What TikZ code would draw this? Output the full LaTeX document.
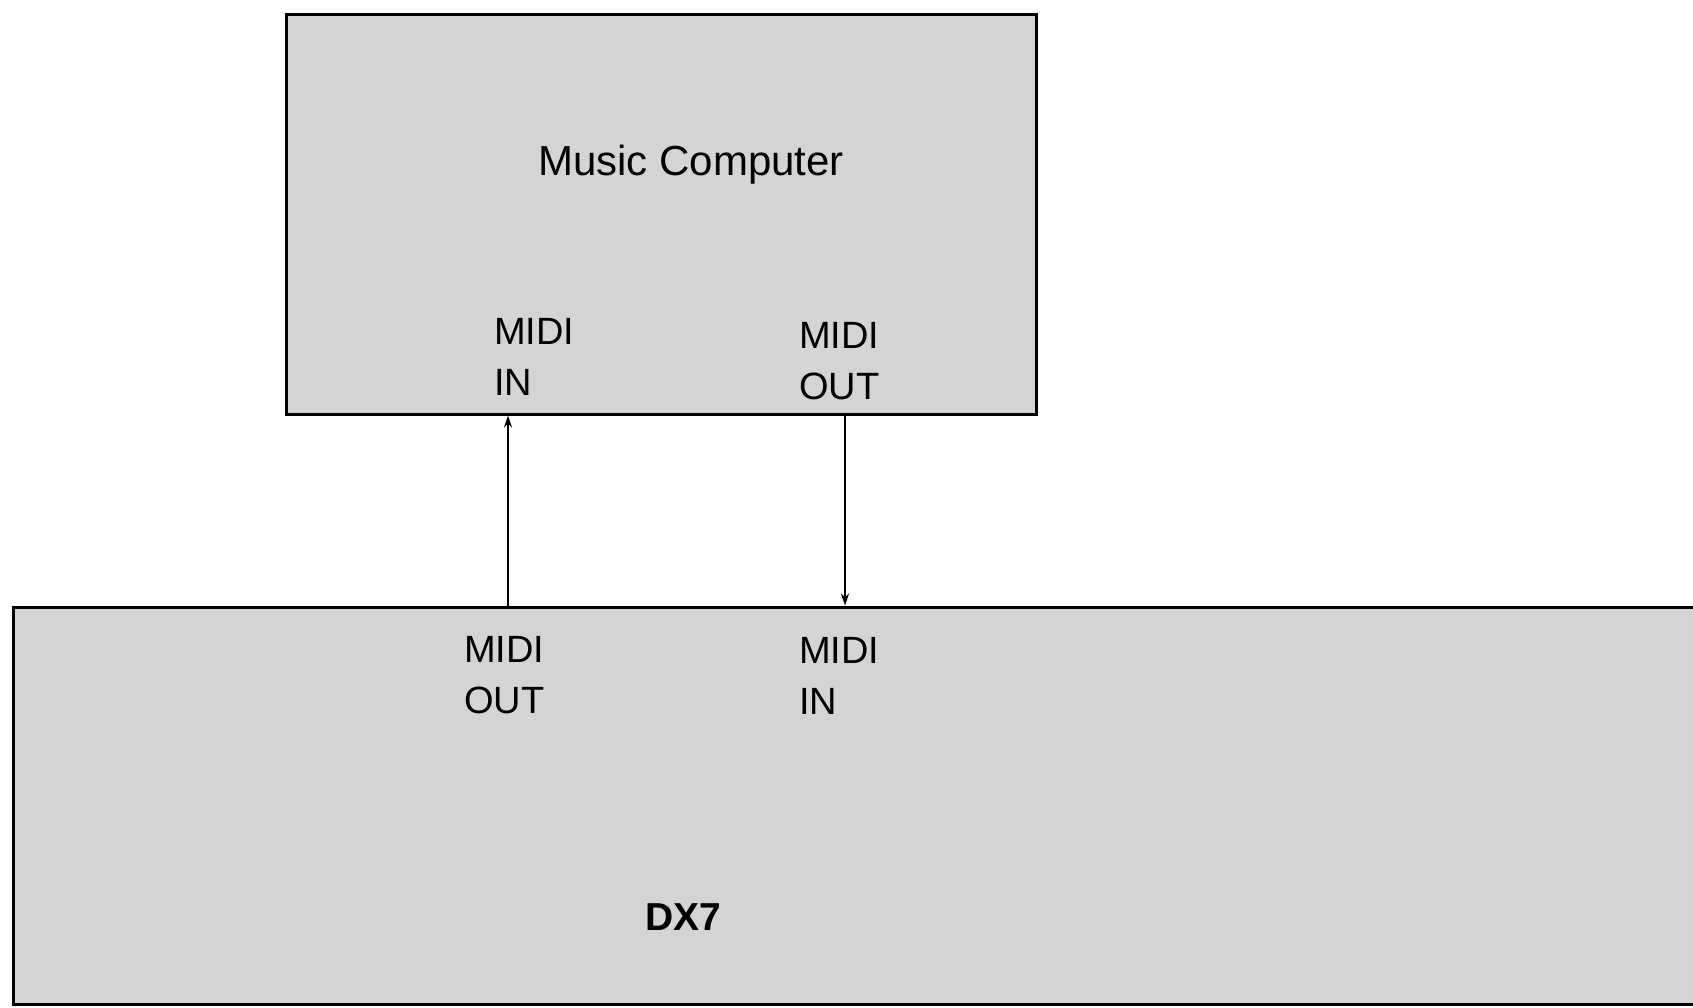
\documentclass[tikz,border=0pt]{standalone}
\usepackage{fontspec}
\setmainfont{Liberation Sans}
\usetikzlibrary{arrows.meta}
\begin{document}
\begin{tikzpicture}[x=1pt,y=-1pt,
  box/.style={draw=black,line width=3pt,fill=black!17,inner sep=0pt},
  lab/.style={inner sep=0pt,align=left,anchor=north west,font=\fontsize{38}{51}\selectfont},
  conn/.style={line width=2pt,-{Stealth[length=12pt,width=8pt]}}]
\useasboundingbox (0,0) rectangle (1693,1007);
\clip (0,0) rectangle (1693,1007);
\fill[white] (0,0) rectangle (1693,1007);
\node[box,minimum width=750pt,minimum height=400pt] (comp) at (661,214) {};
\node[box,minimum width=1710pt,minimum height=397pt] (dx) at (868,805.5) {};
\node[inner sep=0pt,anchor=base,font=\fontsize{42}{50}\selectfont] (mc) at (691,175) {Music Computer};
\node[lab] (cin) at (494,318) {MIDI\\IN};
\node[lab] (cout) at (799,322) {MIDI\\OUT};
\node[lab] (dout) at (464,636) {MIDI\\OUT};
\node[lab] (din) at (799,637) {MIDI\\IN};
\node[inner sep=0pt,anchor=base,font=\fontsize{39}{47}\selectfont\bfseries] (dxl) at (683,930) {DX7};
\coordinate (xl) at (508,0);
\coordinate (xr) at (845,0);
\draw[conn] (dx.north -| xl) -- (comp.south -| xl);
\draw[conn] (comp.south -| xr) -- (dx.north -| xr);
\end{tikzpicture}
\end{document}
